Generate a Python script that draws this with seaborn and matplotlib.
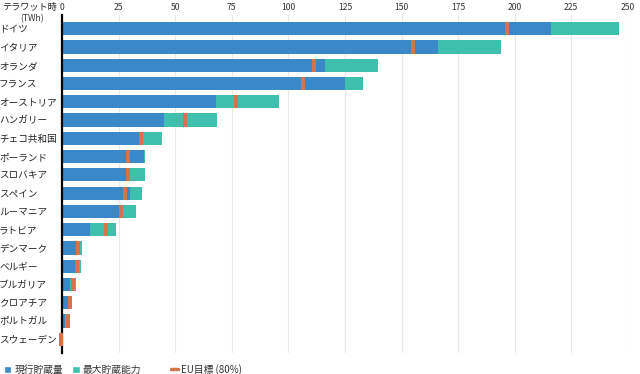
import seaborn as sns
import matplotlib.pyplot as plt
import pandas as pd
from matplotlib.patches import Patch
from matplotlib.lines import Line2D

countries = ['ドイツ', 'イタリア', 'オランダ', 'フランス', 'オーストリア', 'ハンガリー',
             'チェコ共和国', 'ポーランド', 'スロバキア', 'スペイン', 'ルーマニア', 'ラトビア',
             'デンマーク', 'ベルギー', 'ブルガリア', 'クロアチア', 'ポルトガル', 'スウェーデン']
current = [216, 166, 116, 125, 68, 45, 34, 36.3, 29.5, 30, 25, 12.5, 6.3, 5.5, 3.3, 2.6, 1.5, 0]
capacity = [246, 194, 139.5, 133, 96, 68.5, 44, 36.5, 36.5, 35.5, 32.5, 24, 9, 8.5, 6, 4.5, 3.7, 0]
target = [196.5, 155, 111.5, 106.5, 77, 54.5, 35, 29, 29, 28, 26, 19.5, 7.2, 6.7, 4.7, 3.5, 2.7, -0.6]

ticks = [0, 25, 50, 75, 100, 125, 150, 175, 200, 225, 250]

blue = '#3a88c8'
teal = '#3fbfae'
orange = '#d5734c'

df = pd.DataFrame({'country': countries, 'current': current,
                   'capacity': capacity, 'target': target})

sns.set_theme(style='white')
plt.rcParams['font.family'] = ['Noto Sans CJK JP', 'DejaVu Sans']

fig = plt.figure(figsize=(6.4, 3.74), dpi=100)
ax = fig.add_axes([0.097, 0.056, 0.884, 0.904])

sns.barplot(data=df, y='country', x='capacity', color=teal, orient='h',
            width=0.72, saturation=1, linewidth=0, ax=ax)
sns.barplot(data=df, y='country', x='current', color=blue, orient='h',
            width=0.72, saturation=1, linewidth=0, ax=ax)
ypos = range(len(countries))
ax.barh(list(ypos), [1.8] * len(target), left=[t - 0.9 for t in target],
        height=0.72, color=orange, linewidth=0, clip_on=False, zorder=5)

ax.set_xlim(0, 250)
ax.set_ylim(17.75, -0.75)
ax.set_xticks(ticks)
ax.xaxis.tick_top()
ax.tick_params(axis='x', length=0, pad=2, labelsize=6.2, labelcolor='#333333')
ax.tick_params(axis='y', length=0, pad=3, labelsize=6.9, labelcolor='#222222')
for lab in ax.get_yticklabels():
    lab.set_horizontalalignment('left')
    lab.set_x(-0.104)
ax.set_xlabel('')
ax.set_ylabel('')
ax.grid(axis='x', color='#e8e8e8', linewidth=0.8)
ax.set_axisbelow(True)
for s in ['top', 'right', 'bottom']:
    ax.spines[s].set_visible(False)
ax.spines['left'].set_color('black')
ax.spines['left'].set_linewidth(1.6)
ax.spines['left'].set_zorder(4)

fig.text(0.003, 0.981, 'テラワット時', fontsize=6.6, color='#222222', va='center')
fig.text(0.031, 0.949, '(TWh)', fontsize=6.2, color='#333333', va='center')

leg_kw = dict(loc='lower left', frameon=False, fontsize=7, handlelength=0.8,
              handleheight=0.8, handletextpad=0.3, labelcolor='#333333')
fig.legend([Patch(facecolor=blue), Patch(facecolor=teal)], ['現行貯蔵量', '最大貯蔵能力'],
           bbox_to_anchor=(-0.008, -0.025), ncol=2, columnspacing=0.9, **leg_kw)
fig.legend([Line2D([0], [0], color=orange, linewidth=2.5)], ['EU目標 (80%)'],
           bbox_to_anchor=(0.253, -0.025), **leg_kw)

plt.savefig('out.png', dpi=100)
